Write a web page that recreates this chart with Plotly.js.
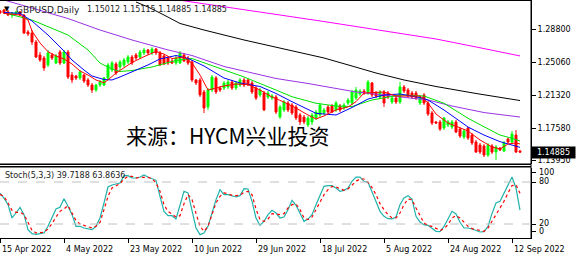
<!DOCTYPE html>
<html><head><meta charset="utf-8">
<script src="https://cdn.plot.ly/plotly-3.0.1.min.js"></script>
<style>html,body{margin:0;padding:0;background:#fff;}#chart{width:576px;height:259px;}</style>
</head><body><div id="chart"></div>
<script>
// ---- data (bar index -1 .. 129, daily GBPUSD) ----
const firstBar = -1;
const opens = [
1.3087,1.3099,1.3076,1.3042,1.3053,1.3076,1.3042,1.2849,1.2838,1.2736,
1.2589,1.2555,1.2476,1.2589,1.2498,1.2623,1.2498,1.2623,1.2362,1.2351,
1.2328,1.2362,1.2306,1.2249,1.2192,1.2249,1.2249,1.2328,1.2419,1.2487,
1.2453,1.2476,1.2510,1.2566,1.2589,1.2566,1.2612,1.2646,1.2612,1.2657,
1.2612,1.2578,1.2555,1.2521,1.2498,1.2498,1.2589,1.2555,1.2510,1.2306,
1.2306,1.2170,1.2000,1.2192,1.2328,1.2215,1.2215,1.2226,1.2283,1.2215,
1.2249,1.2306,1.2306,1.2272,1.2215,1.2136,1.2158,1.2113,1.2102,1.2113,
1.1886,1.1966,1.2045,1.2022,1.2000,1.1909,1.1886,1.1796,1.1830,1.1875,
1.1909,1.1932,1.2000,1.2011,1.1966,1.2011,1.1988,1.2045,1.2045,1.2102,
1.2147,1.2181,1.2158,1.2272,1.2158,1.2113,1.2170,1.2158,1.2056,1.2102,
1.2056,1.2226,1.2192,1.2158,1.2158,1.2045,1.2136,1.2045,1.1932,1.1830,
1.1830,1.1762,1.1796,1.1773,1.1830,1.1750,1.1660,1.1762,1.1682,1.1603,
1.1569,1.1558,1.1456,1.1558,1.1490,1.1535,1.1501,1.1637,1.1603,1.1682,
1.15012];
const highs = [
1.3099,1.3110,1.3099,1.3076,1.3087,1.3087,1.3053,1.2872,1.2872,1.2759,
1.2623,1.2578,1.2646,1.2612,1.2600,1.2646,1.2646,1.2646,1.2396,1.2362,
1.2419,1.2374,1.2328,1.2272,1.2260,1.2306,1.2340,1.2498,1.2521,1.2510,
1.2532,1.2555,1.2589,1.2589,1.2612,1.2646,1.2668,1.2657,1.2680,1.2668,
1.2634,1.2600,1.2578,1.2544,1.2578,1.2634,1.2612,1.2578,1.2532,1.2317,
1.2328,1.2192,1.2215,1.2362,1.2351,1.2238,1.2294,1.2306,1.2306,1.2294,
1.2328,1.2328,1.2317,1.2294,1.2238,1.2215,1.2181,1.2181,1.2147,1.2136,
1.2022,1.2079,1.2068,1.2045,1.2022,1.1932,1.1909,1.1898,1.1932,1.1966,
1.2045,1.1988,1.2022,1.2034,1.2068,1.2034,1.2045,1.2102,1.2192,1.2226,
1.2204,1.2204,1.2306,1.2283,1.2181,1.2192,1.2192,1.2181,1.2124,1.2124,
1.2283,1.2249,1.2215,1.2181,1.2181,1.2136,1.2158,1.2068,1.1954,1.1841,
1.1852,1.1886,1.1852,1.1852,1.1852,1.1773,1.1750,1.1773,1.1705,1.1626,
1.1592,1.1580,1.1592,1.1580,1.1569,1.1546,1.1614,1.1648,1.1728,1.1739,
1.15115];
const lows = [
1.3053,1.3053,1.3031,1.3008,1.3042,1.3031,1.2827,1.2804,1.2702,1.2555,
1.2510,1.2408,1.2453,1.2532,1.2487,1.2476,1.2487,1.2317,1.2272,1.2306,
1.2306,1.2272,1.2226,1.2158,1.2170,1.2226,1.2238,1.2306,1.2396,1.2362,
1.2419,1.2453,1.2487,1.2476,1.2532,1.2544,1.2589,1.2589,1.2589,1.2589,
1.2464,1.2476,1.2476,1.2487,1.2476,1.2487,1.2510,1.2476,1.2283,1.2249,
1.2113,1.1932,1.1966,1.2170,1.2147,1.2170,1.2192,1.2204,1.2192,1.2192,
1.2226,1.2226,1.2238,1.2147,1.2079,1.2113,1.1954,1.2090,1.2079,1.1920,
1.1864,1.1943,1.1943,1.1909,1.1852,1.1796,1.1807,1.1773,1.1796,1.1852,
1.1886,1.1909,1.1920,1.1932,1.1943,1.1943,1.1966,1.2022,1.2022,1.2079,
1.2124,1.2136,1.2136,1.2113,1.2102,1.2090,1.2000,1.2090,1.2034,1.2034,
1.2034,1.2158,1.2102,1.2090,1.2079,1.2022,1.2022,1.1898,1.1796,1.1807,
1.1728,1.1739,1.1773,1.1750,1.1705,1.1648,1.1637,1.1626,1.1569,1.1479,
1.1467,1.1433,1.1433,1.1467,1.1399,1.1501,1.1490,1.1592,1.1592,1.1479,
1.14885];
const closes = [
1.3065,1.3065,1.3042,1.3065,1.3076,1.3042,1.2838,1.2827,1.2736,1.2566,
1.2532,1.2442,1.2612,1.2555,1.2578,1.2498,1.2623,1.2340,1.2306,1.2328,
1.2396,1.2294,1.2249,1.2192,1.2249,1.2283,1.2328,1.2476,1.2498,1.2385,
1.2510,1.2532,1.2566,1.2498,1.2555,1.2623,1.2646,1.2612,1.2657,1.2612,
1.2476,1.2487,1.2498,1.2498,1.2555,1.2612,1.2521,1.2498,1.2306,1.2272,
1.2136,1.1988,1.2192,1.2340,1.2170,1.2192,1.2272,1.2283,1.2215,1.2272,
1.2306,1.2249,1.2249,1.2170,1.2102,1.2192,1.1966,1.2158,1.2124,1.1943,
1.2000,1.2056,1.1966,1.1932,1.1875,1.1830,1.1830,1.1875,1.1909,1.1943,
1.2022,1.1966,1.1943,1.1943,1.2045,1.1966,1.2022,1.2079,1.2170,1.2192,
1.2181,1.2158,1.2283,1.2136,1.2124,1.2170,1.2045,1.2113,1.2102,1.2056,
1.2226,1.2181,1.2124,1.2113,1.2102,1.2113,1.2045,1.1920,1.1818,1.1818,
1.1750,1.1875,1.1830,1.1830,1.1716,1.1671,1.1728,1.1648,1.1592,1.1490,
1.1490,1.1456,1.1569,1.1490,1.1546,1.1513,1.1592,1.1603,1.1694,1.1490,
1.14885];

// moving averages (bar index, value)
const maRedIdx = [0,4,6,7,9,11,13,15,17,19,21,23,25,26,28,30,32,35,38,40,42,45,47,49,51,53,55,58,61,64,67,70,73,76,78,80,83,86,88,90,95,98,101,104,106,108,111,114,116,119,122,124,126,128,129];
const maRedVal = [1.3061,1.3042,1.2985,1.2861,1.2725,1.2626,1.2578,1.2544,1.2487,1.2408,1.2362,1.2306,1.2275,1.2306,1.2385,1.2442,1.2504,1.2570,1.2629,1.2600,1.2549,1.2566,1.2498,1.2362,1.2192,1.2215,1.2238,1.2260,1.2255,1.2192,1.2113,1.2056,1.1988,1.1909,1.1864,1.1898,1.1966,1.2000,1.2060,1.2158,1.2170,1.2124,1.2124,1.2124,1.2045,1.1920,1.1818,1.1767,1.1728,1.1626,1.1547,1.1524,1.1581,1.1592,1.1581];
const maBlueIdx = [0,4,7,11,15,17,20,22,25,27,29,32,36,39,43,46,50,55,59,64,68,72,76,78,83,87,91,95,99,104,106,110,116,120,124,127,129];
const maBlueVal = [1.3070,1.3061,1.2974,1.2815,1.2634,1.2532,1.2419,1.2351,1.2311,1.2306,1.2340,1.2396,1.2476,1.2544,1.2583,1.2551,1.2464,1.2328,1.2272,1.2232,1.2153,1.2060,1.1966,1.1928,1.1909,1.1994,1.2090,1.2136,1.2147,1.2107,1.2079,1.1966,1.1773,1.1682,1.1607,1.1569,1.1543];
const maGreenIdx = [0,7,16,21,24,27,29,32,37,43,47,51,60,68,72,78,83,87,92,99,105,110,116,120,124,127,129];
const maGreenVal = [1.3068,1.2985,1.2815,1.2646,1.2498,1.2430,1.2402,1.2413,1.2453,1.2527,1.2549,1.2487,1.2340,1.2192,1.2116,1.2042,1.2011,1.2005,1.2079,1.2136,1.2124,1.2042,1.1872,1.1776,1.1682,1.1645,1.1614];
const maPurpleIdx = [0,2,7,16,24,32,41,47,55,68,76,88,99,106,112,120,129];
const maPurpleVal = [1.3212,1.3184,1.3121,1.3002,1.2872,1.2759,1.2646,1.2583,1.2459,1.2323,1.2266,1.2170,1.2113,1.2079,1.2011,1.1937,1.1886];
const maBlackIdx = [33,36,40,44,50,60,70,80,87,93,100,108,118,129];
const maBlackVal = [1.3189,1.3133,1.3042,1.2946,1.2872,1.2759,1.2657,1.2555,1.2464,1.2385,1.2306,1.2232,1.2153,1.2073];
const maMagentaIdx = [44,48,60,69,80,94,108,118,129];
const maMagentaVal = [1.3209,1.3181,1.3104,1.3042,1.2968,1.2872,1.2770,1.2680,1.2578];

// stochastic (5,3,3), bar index -1 .. 129
const stochK = [
64,57,47.6,28.6,35.7,43.8,33.4,11.9,6.2,5.3,
6.2,7.2,16.7,28.6,41.5,43.8,56.2,45.3,33.4,16.7,
16.7,14.3,13.4,11.9,16.7,28.6,50,72.9,75.7,76.7,
78.6,89,89,85.7,85.7,87.1,90,87.1,84.8,82.4,
59.5,38.1,31.9,31.9,27.2,45.3,66.7,64.3,40.5,14.3,
4.8,7.2,16.7,35.7,54.8,69,61.9,61.9,60.5,58.6,
60.5,70.5,70,52.4,28.6,18.1,23.8,33.4,39.5,35.7,
28.6,30,40.5,53.8,46.7,35.7,23.8,27,33.4,47.6,
59.5,73.8,74.8,74.8,71.4,66.7,68.1,71.4,81,87.1,
87.1,81,79.5,66.7,52,38,31,27.6,27.2,30,
47.6,57.2,60.5,55.7,31,22.9,19.1,18.1,14.3,9.5,
9.1,16.7,27.2,38.1,34.3,22.4,14.3,14.3,12.9,11,
8.6,9.1,16.7,34.8,50,52.4,64.3,76.2,87.1,71.4,
39.7188];
const stochD = [
62,59.5,50,39.5,36.7,36.7,33.4,21.5,11,7.2,
7.2,8.1,12.9,20.5,30,38.1,41.5,46.2,35.7,24.8,
20,18.1,15.3,14.3,16.7,22.4,40.5,59.5,71.4,74.8,
77.6,84.3,88.1,88.1,85.7,86.7,87.1,86.7,84.8,78.6,
66.7,47.6,38.1,33.4,30,31.9,49,61.9,55,35,
17,9.5,16.7,33.4,50,59.5,64.3,63.3,61,60.5,
61.4,65.3,66.7,61.9,41.5,26.2,23.8,27.2,34.8,34.3,
33.4,34.8,42.9,47.6,48.6,40.5,28.6,26.2,30,40.5,
52.4,61.9,69,73.8,72.9,70,68.1,70,76.2,81,
84.3,84.3,79.5,72,62,49,40.5,33.4,28.6,28.6,
35.7,47.6,55.7,54.8,42.9,31.9,21.5,17.6,16.7,13.8,
10.5,13.4,19.1,28.6,31.9,28.6,22.4,16.7,13.4,11.9,
10.5,9.5,14.3,23.8,33.4,42.9,52.4,64.3,74.8,76.2,
63.8636];

const dateIdx = [-1,15,31,47,63,79,95,111,127];
const dateLabels = ['15 Apr 2022','4 May 2022','23 May 2022','10 Jun 2022','29 Jun 2022','18 Jul 2022','5 Aug 2022','24 Aug 2022','12 Sep 2022'];
const priceTicks = [1.2880,1.2506,1.2132,1.1758,1.1395];
const stochTickPos = [8.6,20,80,92.9];
const stochTickText = ['0','20','80','100'];
const symbolText = 'GBPUSD,Daily';
const quoteText = '1.15012 1.15115 1.14885 1.14885';
const lastPrice = 1.14885;
const stochText = 'Stoch(5,3,3) 39.7188 63.8636';
const watermark = '来源：HYCM兴业投资';

// ---- drawing ----
const barIdx = opens.map((_, k) => k + firstBar);
const FONT = 'DejaVu Sans, Verdana, sans-serif';
const PH = 238; // plot area height in px
const py = p => (PH - p) / PH; // pixel row -> paper y

function ma(idx, val, color) {
  return {type:'scatter', mode:'lines', x:idx, y:val, xaxis:'x', yaxis:'y',
          line:{color:color, width:1}, hoverinfo:'skip'};
}

const traces = [
  {type:'candlestick', x:barIdx, open:opens, high:highs, low:lows, close:closes,
   xaxis:'x', yaxis:'y', whiskerwidth:0, hoverinfo:'skip',
   increasing:{line:{color:'#00ff00', width:1}, fillcolor:'#00ff00'},
   decreasing:{line:{color:'#ff0000', width:1}, fillcolor:'#ff0000'}},
  ma(maMagentaIdx, maMagentaVal, '#ff00ff'),
  ma(maBlackIdx, maBlackVal, '#000000'),
  ma(maPurpleIdx, maPurpleVal, '#9a32e6'),
  ma(maGreenIdx, maGreenVal, '#00e000'),
  ma(maBlueIdx, maBlueVal, '#0000ff'),
  ma(maRedIdx, maRedVal, '#ff0000'),
  {type:'scatter', mode:'lines', x:barIdx, y:stochK, xaxis:'x', yaxis:'y2',
   line:{color:'#20b2aa', width:1.2}, hoverinfo:'skip'},
  {type:'scatter', mode:'lines', x:barIdx, y:stochD, xaxis:'x', yaxis:'y2',
   line:{color:'#ff0000', width:1.2, dash:'dot'}, hoverinfo:'skip'}
];

const annotations = [
  {xref:'paper', yref:'paper', x:2/531, y:py(9), xanchor:'left', yanchor:'middle', showarrow:false,
   text:'▼', font:{family:FONT, size:7, color:'#000'}},
  {xref:'paper', yref:'paper', x:14/531, y:py(10), xanchor:'left', yanchor:'middle', showarrow:false,
   text:symbolText, font:{family:FONT, size:9, color:'#222'}},
  {xref:'paper', yref:'paper', x:85/531, y:py(10), xanchor:'left', yanchor:'middle', showarrow:false,
   text:quoteText, font:{family:FONT, size:8, color:'#222'}},
  {xref:'paper', yref:'paper', x:228/531, y:py(134.5), xanchor:'center', yanchor:'middle', showarrow:false,
   text:watermark, font:{family:'Noto Sans CJK SC, sans-serif', size:21, color:'#000'}},
  {xref:'paper', yref:'paper', x:3/531, y:py(175.5), xanchor:'left', yanchor:'middle', showarrow:false,
   text:stochText, font:{family:FONT, size:8, color:'#222'}},
  {xref:'paper', yref:'y', x:1, y:lastPrice, xanchor:'left', yanchor:'middle', showarrow:false,
   text:lastPrice.toFixed(5), bgcolor:'#000', width:43, height:11, borderpad:0, align:'center',
   font:{family:FONT, size:8, color:'#fff'}}
];
// stochastic axis labels drawn as text next to their tick marks
stochTickPos.forEach((v, k) => annotations.push({
  xref:'paper', yref:'y2', x:1, y:v, xanchor:'left', yanchor:'middle', xshift:6, showarrow:false,
  text:stochTickText[k], font:{family:FONT, size:8, color:'#000'}
}));
dateIdx.forEach((d, k) => annotations.push({
  xref:'x', yref:'paper', x:d, y:py(249), xanchor:'left', yanchor:'middle', showarrow:false,
  text:dateLabels[k], font:{family:FONT, size:8, color:'#000'}
}));

const shapes = [
  {type:'line', xref:'paper', yref:'paper', x0:0, x1:1, y0:1, y1:1, line:{color:'#000', width:2}},
  {type:'line', xref:'paper', yref:'paper', x0:0, x1:1, y0:py(164.3), y1:py(164.3), line:{color:'#000', width:1.5}},
  {type:'line', xref:'paper', yref:'paper', x0:0, x1:1, y0:py(166.8), y1:py(166.8), line:{color:'#000', width:1.5}},
  {type:'line', xref:'paper', yref:'paper', x0:1, x1:1, y0:0, y1:1, line:{color:'#000', width:1}},
  {type:'line', xref:'paper', yref:'y2', x0:0, x1:1, y0:20, y1:20, line:{color:'#c0c0c0', width:1, dash:'dash'}},
  {type:'line', xref:'paper', yref:'y2', x0:0, x1:1, y0:80, y1:80, line:{color:'#c0c0c0', width:1, dash:'dash'}}
];

const layout = {
  width:576, height:259, margin:{l:0, r:45, t:0, b:21},
  paper_bgcolor:'#fff', plot_bgcolor:'#fff', showlegend:false, hovermode:false,
  font:{family:FONT, size:8, color:'#000'},
  xaxis:{domain:[0,1], range:[-1,131.75], anchor:'y2', showgrid:false, zeroline:false,
         showline:true, linecolor:'#000', linewidth:1, ticks:'outside', ticklen:4, tickcolor:'#000',
         tickvals:dateIdx, showticklabels:false, rangeslider:{visible:false}, fixedrange:true},
  yaxis:{domain:[py(164),1], range:[1.1354,1.3212], side:'right', anchor:'x', showgrid:false,
         zeroline:false, showline:true, linecolor:'#000', ticks:'outside', ticklen:4, tickcolor:'#000',
         tickvals:priceTicks, ticktext:priceTicks.map(v => v.toFixed(5)),
         tickfont:{family:FONT, size:8, color:'#000'}, fixedrange:true},
  yaxis2:{domain:[0,py(168)], range:[0,100], side:'right', anchor:'x', showgrid:false,
         zeroline:false, showline:true, linecolor:'#000', ticks:'outside', ticklen:4, tickcolor:'#000',
         tickvals:stochTickPos, showticklabels:false, fixedrange:true},
  shapes:shapes, annotations:annotations
};

Plotly.newPlot('chart', traces, layout, {staticPlot:true, displayModeBar:false});
</script>
</body></html>
